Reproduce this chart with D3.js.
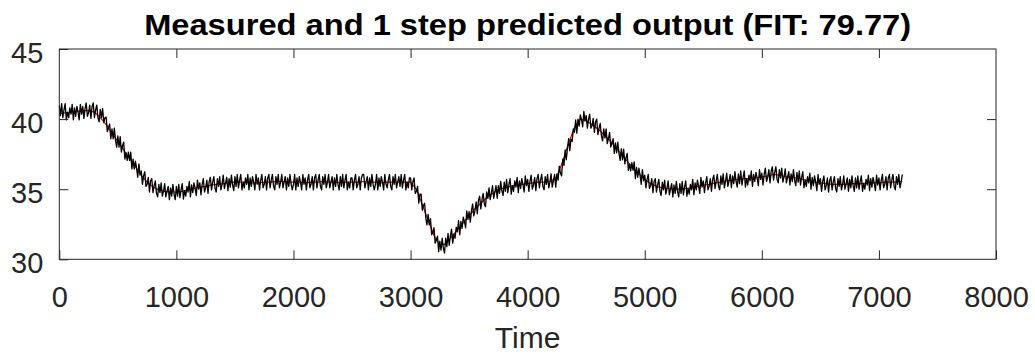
<!DOCTYPE html>
<html>
<head>
<meta charset="utf-8">
<script src="https://cdn.jsdelivr.net/npm/d3@7"></script>
<style>
  html, body { margin: 0; padding: 0; background: #ffffff; }
  svg { display: block; font-family: "Liberation Sans", Arial, Helvetica, sans-serif; }
</style>
</head>
<body>
<svg id="chart" width="1035" height="356"></svg>
<script>
// Measured output, sampled every 10 time units from t = 0 to t = 7200 (one row per 100 units)
const measuredStep = 10;
const measured = [
  40.95,40.25,41.1,40.1,40.65,41.1,39.95,40.5,40.1,40.8,
  40.35,41.05,39.95,40.8,40.2,40.9,40.5,39.95,41.05,40.35,
  40.9,40.05,40.75,41.15,40.2,40.45,41.0,40.05,40.9,41.15,
  40.1,40.65,41.0,40.1,39.8,40.7,40.1,40.75,39.75,40.1,
  40.15,39.1,39.4,39.65,38.6,39.3,38.6,39.35,38.5,38.0,
  38.8,38.0,38.75,37.65,38.1,38.35,37.15,37.6,37.05,37.65,
  37.05,37.65,36.45,37.15,36.45,37.0,36.5,35.85,36.8,36.0,
  36.3,35.35,35.95,36.25,35.2,35.35,35.85,34.8,35.6,35.75,
  34.75,35.25,35.6,34.7,34.45,35.35,34.75,35.45,34.5,34.85,
  35.4,34.45,34.85,35.2,34.25,35.1,34.5,35.35,34.65,34.25,
  35.2,34.5,35.35,34.4,34.95,35.4,34.3,34.9,34.5,35.2,
  34.8,35.55,34.45,35.3,34.75,35.45,35.05,34.55,35.65,35.0,
  35.45,34.6,35.35,35.75,34.8,35.1,35.65,34.7,35.55,35.85,
  34.95,35.5,35.9,35.05,34.8,35.75,35.2,35.9,34.95,35.35,
  36.0,35.05,35.45,35.85,34.9,35.75,35.15,36.0,35.3,34.9,
  35.9,35.2,36.05,35.1,35.65,36.05,34.95,35.5,35.1,35.8,
  35.35,36.05,34.95,35.8,35.2,35.9,35.5,34.95,36.05,35.35,
  35.8,34.95,35.65,36.05,35.1,35.35,35.9,34.95,35.8,36.05,
  35.1,35.65,36.05,35.2,34.95,35.9,35.35,36.05,35.1,35.5,
  36.05,35.1,35.5,35.9,34.95,35.8,35.2,36.05,35.35,34.95,
  35.35,36.05,34.95,35.8,35.2,35.9,35.5,34.95,36.05,35.35,
  35.8,34.95,35.65,36.05,35.1,35.35,35.9,34.95,35.8,36.05,
  35.1,35.65,36.05,35.2,34.95,35.9,35.35,36.05,35.1,35.5,
  36.05,35.1,35.5,35.9,34.95,35.8,35.2,36.05,35.35,34.95,
  35.9,35.2,36.05,35.1,35.65,36.05,34.95,35.5,35.1,35.8,
  35.8,34.95,35.65,36.05,35.1,35.35,35.9,34.95,35.8,36.05,
  36.05,35.1,35.5,35.9,34.95,35.8,35.2,36.05,35.35,34.95,
  35.35,36.05,34.95,35.8,35.2,35.9,35.5,34.95,36.05,35.35,
  35.1,35.65,36.05,35.2,34.95,35.9,35.35,36.05,35.1,35.5,
  35.9,35.2,36.05,35.1,35.65,36.05,34.95,35.5,35.1,35.8,
  35.8,34.95,35.55,35.8,34.7,34.85,35.2,34.0,34.65,34.65,
  33.5,33.85,34.0,32.95,32.45,33.2,32.45,32.9,31.75,31.9,
  32.25,31.15,31.4,31.65,30.55,31.3,30.65,31.5,30.8,30.45,
  31.5,30.9,31.85,31.0,31.65,32.15,31.15,31.8,31.5,32.3,
  31.95,32.75,31.75,32.7,32.2,33.0,32.7,32.25,33.45,32.85,
  33.4,32.65,33.45,33.95,33.1,33.45,34.1,33.25,34.2,34.5,
  33.6,34.25,34.7,33.95,33.75,34.8,34.35,35.1,34.25,34.7,
  35.25,34.35,34.8,35.25,34.35,35.25,34.7,35.55,34.9,34.55,
  35.5,34.85,35.7,34.75,35.35,35.75,34.65,35.25,34.85,35.6,
  35.15,35.85,34.75,35.6,35.05,35.75,35.35,34.8,35.95,35.25,
  35.7,34.85,35.55,36.0,35.0,35.3,35.85,34.9,35.75,36.05,
  35.1,35.65,36.05,35.2,34.95,35.9,35.35,36.05,35.1,35.5,
  36.1,35.15,35.6,36.05,35.15,36.1,35.65,36.65,36.15,35.95,
  37.15,36.7,37.8,37.1,37.9,38.6,37.75,38.55,38.4,39.3,
  39.05,39.95,39.0,40.0,39.5,40.3,39.95,39.45,40.55,39.85,
  40.25,39.35,40.0,40.35,39.35,39.55,40.05,39.05,39.8,40.0,
  38.9,39.35,39.7,38.8,38.45,39.3,38.65,39.3,38.25,38.6,
  39.05,38.0,38.3,38.6,37.55,38.3,37.6,38.35,37.55,37.05,
  37.9,37.1,37.85,36.8,37.25,37.55,36.35,36.8,36.3,36.9,
  36.35,36.95,35.75,36.55,35.85,36.5,36.0,35.35,36.4,35.6,
  36.0,35.1,35.7,36.05,35.05,35.25,35.75,34.75,35.55,35.75,
  34.8,35.3,35.7,34.85,34.55,35.5,34.95,35.65,34.65,35.05,
  35.6,34.6,35.0,35.4,34.45,35.3,34.7,35.55,34.85,34.45,
  35.4,34.7,35.55,34.6,35.15,35.6,34.5,35.05,34.65,35.35,
  34.95,35.7,34.6,35.45,34.95,35.65,35.2,34.7,35.85,35.15,
  35.6,34.75,35.45,35.9,34.95,35.2,35.75,34.85,35.7,36.0,
  35.05,35.6,36.05,35.2,34.95,35.95,35.35,36.1,35.1,35.55,
  36.15,35.2,35.6,36.05,35.1,35.95,35.4,36.25,35.55,35.15,
  36.1,35.4,36.3,35.3,35.85,36.3,35.15,35.75,35.3,36.0,
  35.6,36.3,35.2,36.05,35.55,36.2,35.8,35.25,36.4,35.7,
  36.15,35.3,36.05,36.5,35.55,35.85,36.4,35.45,36.3,36.6,
  35.65,36.2,36.6,35.7,35.45,36.4,35.8,36.5,35.5,35.9,
  36.45,35.45,35.85,36.25,35.3,36.1,35.55,36.4,35.65,35.25,
  36.2,35.5,36.3,35.3,35.85,36.25,35.1,35.65,35.2,35.9,
  35.45,36.15,35.0,35.85,35.25,35.95,35.5,34.9,36.05,35.35,
  35.75,34.85,35.55,35.95,34.95,35.25,35.8,34.8,35.65,35.9,
  34.95,35.5,35.9,35.05,34.8,35.75,35.2,35.9,34.95,35.35,
  35.95,35.0,35.4,35.8,34.85,35.7,35.1,35.95,35.25,34.85,
  35.8,35.1,35.95,35.0,35.55,35.95,34.85,35.4,35.0,35.7,
  35.3,36.0,34.9,35.75,35.15,35.85,35.45,34.9,36.0,35.3,
  35.8,34.95,35.65,36.05,35.1,35.35,35.9,34.95,35.8,36.05,
  35.1,35.65,36.05,35.2,34.95,35.9,35.35,36.05,35.1,35.5,
  36.05
];

// 1-step predicted output, sampled every 50 time units from t = 0 to t = 7200
const predictedStep = 50;
const predicted = [
  40.4,40.45,40.5,40.55,40.6,40.6,40.5,40.1,39.6,39.0,38.4,37.8,37.2,36.6,36.0,35.5,35.15,34.95,34.85,34.8,
  34.8,34.85,34.95,35.05,35.15,35.2,35.3,35.35,35.4,35.45,35.5,35.5,35.5,35.45,35.45,35.5,35.5,35.55,35.55,35.5,
  35.5,35.5,35.45,35.5,35.5,35.55,35.5,35.5,35.45,35.5,35.5,35.5,35.55,35.5,35.5,35.45,35.5,35.5,35.5,35.5,
  35.5,35.0,33.9,32.8,31.7,31.0,31.1,31.6,32.1,32.6,33.1,33.6,34.0,34.4,34.7,34.95,35.1,35.2,35.3,35.35,
  35.4,35.45,35.5,35.5,35.55,35.9,37.0,38.3,39.4,40.0,39.9,39.6,39.3,38.9,38.5,38.0,37.5,37.0,36.5,36.1,
  35.7,35.4,35.2,35.1,35.05,35.0,35.0,35.05,35.1,35.2,35.3,35.35,35.45,35.5,35.6,35.65,35.7,35.75,35.75,35.8,
  35.85,35.95,36.05,36.0,35.9,35.85,35.8,35.7,35.6,35.5,35.45,35.4,35.35,35.35,35.35,35.4,35.4,35.4,35.45,35.45,
  35.45,35.5,35.5,35.5,35.55
];

const xTicks = [0, 1000, 2000, 3000, 4000, 5000, 6000, 7000, 8000];
const yTicks = [30, 35, 40, 45];
const titleText = "Measured and 1 step predicted output (FIT: 79.77)";
const xLabelText = "Time";

// Plot box
const plotLeft = 59.3, plotRight = 996, plotTop = 49, plotBottom = 259.3;
const axisColor = "#262626";

const svg = d3.select("#chart");
svg.append("rect").attr("width", 1035).attr("height", 356).attr("fill", "#ffffff");

const x = d3.scaleLinear().domain([0, 8000]).range([plotLeft, plotRight]);
const y = d3.scaleLinear().domain([30, 45]).range([plotBottom, plotTop]);

const line = d3.line()
  .x(d => x(d[0]))
  .y(d => y(d[1]));

const predictedPts = predicted.map((v, i) => [i * predictedStep, v]);
const measuredPts = measured.map((v, i) => [i * measuredStep, v]);

// Predicted output underneath, measured output on top
svg.append("path")
  .datum(predictedPts)
  .attr("d", line)
  .attr("fill", "none")
  .attr("stroke", "#e00000")
  .attr("stroke-width", 1.2);

svg.append("path")
  .datum(measuredPts)
  .attr("d", line)
  .attr("fill", "none")
  .attr("stroke", "#000000")
  .attr("stroke-width", 1.3)
  .attr("stroke-linejoin", "round");

// Axes with inward ticks on all four sides
function styleAxis(g) {
  g.select(".domain").remove();
  g.selectAll(".tick line").attr("stroke", axisColor).attr("stroke-width", 1);
  g.selectAll(".tick text")
    .attr("fill", axisColor)
    .style("font-size", "29px")
    .style("font-family", "\"Liberation Sans\", Arial, Helvetica, sans-serif");
}

svg.append("g")
  .attr("transform", `translate(0,${plotBottom})`)
  .call(d3.axisBottom(x).tickValues(xTicks).tickFormat(d3.format("d")).tickSize(-9).tickPadding(27))
  .call(styleAxis);

svg.append("g")
  .attr("transform", `translate(0,${plotTop})`)
  .call(d3.axisTop(x).tickValues(xTicks.slice(1, -1)).tickFormat("").tickSize(-9))
  .call(styleAxis);

const gLeft = svg.append("g")
  .attr("transform", `translate(${plotLeft},0)`)
  .call(d3.axisLeft(y).tickValues(yTicks).tickFormat(d3.format("d")).tickSize(-9).tickPadding(16))
  .call(styleAxis);
gLeft.selectAll(".tick text").attr("dy", "0.45em");

svg.append("g")
  .attr("transform", `translate(${plotRight},0)`)
  .call(d3.axisRight(y).tickValues(yTicks.slice(1, -1)).tickFormat("").tickSize(-9))
  .call(styleAxis);

// Box outline
svg.append("rect")
  .attr("x", plotLeft).attr("y", plotTop)
  .attr("width", plotRight - plotLeft).attr("height", plotBottom - plotTop)
  .attr("fill", "none")
  .attr("stroke", axisColor)
  .attr("stroke-width", 1);

// Title
svg.append("text")
  .attr("x", (plotLeft + plotRight) / 2)
  .attr("y", 35)
  .attr("text-anchor", "middle")
  .attr("fill", "#000000")
  .attr("textLength", 767)
  .attr("lengthAdjust", "spacingAndGlyphs")
  .style("font-size", "29px")
  .style("font-weight", "bold")
  .text(titleText);

// X axis label
svg.append("text")
  .attr("x", (plotLeft + plotRight) / 2)
  .attr("y", 348)
  .attr("text-anchor", "middle")
  .attr("fill", axisColor)
  .style("font-size", "30px")
  .text(xLabelText);
</script>
</body>
</html>
